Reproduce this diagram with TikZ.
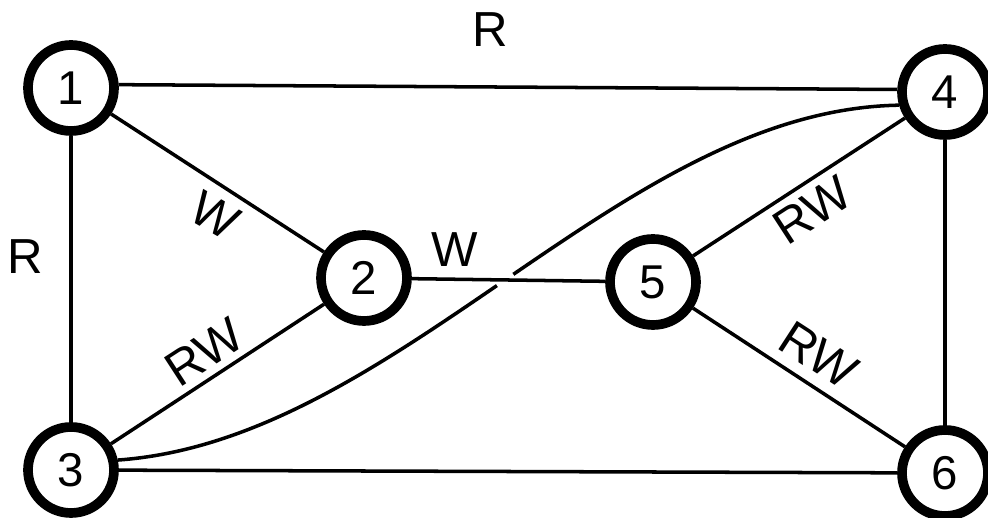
\documentclass[tikz,border=0pt]{standalone}
\usepackage{fontspec}
\setmainfont{Liberation Sans}
\usetikzlibrary{intersections}

\begin{document}
\begin{tikzpicture}[
	stn/.style={shape=circle, draw, line width=5.5pt, minimum size=1.72cm, inner sep=0pt, font=\fontsize{27}{27}\selectfont},
	lbl/.style={font=\fontsize{28}{28}\selectfont, inner sep=0pt},
	edge/.style={line width=2pt}]
	\useasboundingbox (0, 0) rectangle (19.76, 10.36);
	\node[stn](n1) at (1.42, 8.60){1};
	\node[stn](n4) at (18.90, 8.52){4};
	\node[stn](n2) at (7.28, 4.80){2};
	\node[stn](n5) at (13.06, 4.72){5};
	\node[stn](n3) at (1.42, 0.96){3};
	\node[stn](n6) at (18.90, 0.90){6};
	\draw[edge] (n1.4) -- (n4.177);
	\draw[edge] (n1) -- (n3);
	\draw[edge] (n4) -- (n6);
	\draw[edge] (n3) -- (n6);
	\draw[edge] (n1) -- (n2);
	\draw[edge] (n3) -- (n2);
	\draw[edge] (n5) -- (n4);
	\draw[edge] (n5) -- (n6);
	% curve from 3 to 4, broken where it passes the W link
	\draw[edge, name path=bend] (n3.12) .. controls (8.0, 1.56) and (12.4, 8.16) .. (n4.196);
	\path[name path=wlink] (n2) -- (n5);
	\fill[white, name intersections={of=bend and wlink, by=x1}] (x1) circle (0.2);
	\draw[edge] (n2) -- (n5);
	\node[lbl](lR1) at (9.80, 9.76){R};
	\node[lbl](lR2) at (0.50, 5.22){R};
	\node[lbl, rotate=-30](lW1) at (4.30, 6.06){W};
	\node[lbl](lW2) at (9.10, 5.36){W};
	\node[lbl, rotate=33](lRW1) at (4.08, 3.32){RW};
	\node[lbl, rotate=33](lRW2) at (16.24, 6.16){RW};
	\node[lbl, rotate=-33](lRW3) at (16.38, 3.26){RW};
\end{tikzpicture}
\end{document}
